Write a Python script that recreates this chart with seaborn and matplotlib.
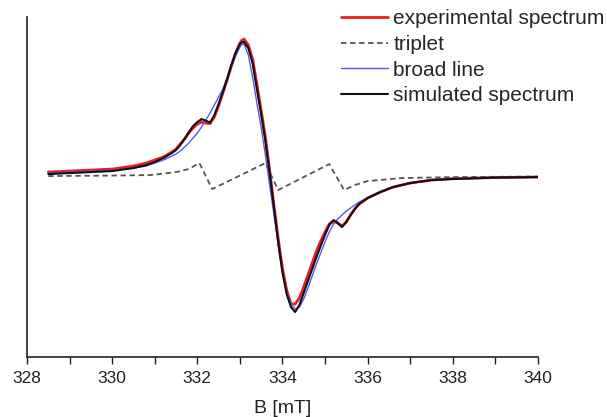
import matplotlib
matplotlib.use("Agg")
from matplotlib import pyplot as plt
from matplotlib.ticker import MultipleLocator
import pandas as pd
import seaborn as sns

# magnetic field [mT] for the spectra
field = [328.5, 329.0, 329.5, 330.0, 330.5, 330.8, 331.0, 331.2, 331.4, 331.5,
         331.6, 331.7, 331.8, 331.9, 332.0, 332.1, 332.2, 332.3, 332.4, 332.5,
         332.6, 332.7, 332.8, 332.9, 333.0, 333.05, 333.1, 333.2, 333.3, 333.4,
         333.5, 333.6, 333.7, 333.8, 333.9, 334.0, 334.1, 334.2, 334.3, 334.4,
         334.5, 334.6, 334.7, 334.8, 334.9, 335.0, 335.1, 335.2, 335.3, 335.4,
         335.5, 335.6, 335.7, 335.8, 335.9, 336.0, 336.3, 336.6, 337.0, 337.5,
         338.0, 339.0, 340.0]

experimental = [5, 6, 7, 8, 11, 14, 17, 20, 25, 28,
                33, 38, 44, 49, 53, 55, 54, 53.5, 60, 71,
                84, 97, 111, 124, 134, 137, 138, 132, 118, 93,
                67, 40, 7, -28, -61, -91, -113, -127, -127, -121,
                -110, -98, -86, -74, -64, -55, -47, -44, -46, -49,
                -45, -38, -32, -27, -24, -21, -15, -10, -6, -3,
                -1.5, -0.5, 0]

broad = [4, 5, 6, 7, 9, 11, 14, 17, 21, 23,
         26, 30, 34, 39, 44, 50, 57, 64, 72, 80,
         88, 99, 110, 121, 130, 133, 133, 122, 100, 74,
         50, 22, -8, -37, -68, -95, -115, -127, -132, -130,
         -122, -111, -99, -87, -76, -65, -55, -47, -42, -38,
         -34, -31, -28, -25, -23, -21, -15, -10, -6, -3,
         -1.5, -0.5, 0]

simulated = [3, 4, 5, 6, 9, 12, 15, 19, 24, 27,
             32, 38, 45, 51, 55, 58, 56.5, 54.5, 62, 73,
             85, 98, 112, 124, 133, 135, 135, 129, 114, 88,
             63, 36, 4, -30, -65, -95, -117, -130, -135, -128,
             -116, -104, -92, -80, -69, -58, -48, -43, -46, -50,
             -45, -38, -32, -27, -24, -21, -15, -10, -6, -3,
             -2, -0.5, 0]

# triplet has its own kinks
field_triplet = [328.5, 330.0, 330.9, 331.5, 331.8, 332.05, 332.35, 333.6, 333.9,
                 335.1, 335.45, 335.7, 336.0, 336.8, 338.0, 340.0]
triplet = [1, 1.5, 2, 5, 8, 14, -12, 14, -13,
           13, -13, -8, -4, -1, 0, 0.5]

sns.set_style("white")
plt.rcParams['font.family'] = ['Liberation Sans', 'DejaVu Sans']

fig = plt.figure(figsize=(6.07, 4.17), dpi=100)
ax = fig.add_axes([0.0445, 0.1439, 0.8415, 0.815])

sns.lineplot(x=field, y=experimental, ax=ax, color="#ec1c22", lw=2.0,
             label="experimental spectrum", sort=False)
sns.lineplot(x=field_triplet, y=triplet, ax=ax, color="#555555", lw=1.3,
             linestyle=(0, (3, 2)), label="triplet", sort=False)
sns.lineplot(x=field, y=broad, ax=ax, color="#5858ee", lw=1.0,
             label="broad line", sort=False)
sns.lineplot(x=field, y=simulated, ax=ax, color="#111111", lw=1.5,
             label="simulated spectrum", sort=False)

ax.set_xlim(328, 340)
ax.set_ylim(-180, 160)
ax.xaxis.set_major_locator(MultipleLocator(2))
ax.xaxis.set_minor_locator(MultipleLocator(1))
ax.set_yticks([])
ax.tick_params(axis="x", which="both", direction="out", bottom=True,
               length=5, width=1, pad=5, labelsize=12.5, colors="#222222")
ax.set_xlabel("B [mT]", fontsize=14, color="#222222", labelpad=10)
ax.set_ylabel("")

sns.despine(ax=ax)
for s in ["left", "bottom"]:
    ax.spines[s].set_color("#222222")
    ax.spines[s].set_linewidth(1.2)

leg = ax.legend(loc="upper left", bbox_to_anchor=(0.555, 0.988),
                bbox_transform=fig.transFigure, frameon=False,
                fontsize=15, handlelength=2.26, handletextpad=0.25,
                labelspacing=0.32, borderpad=0.2, borderaxespad=0)

fig.savefig("out.png", dpi=100)
plt.close(fig)
